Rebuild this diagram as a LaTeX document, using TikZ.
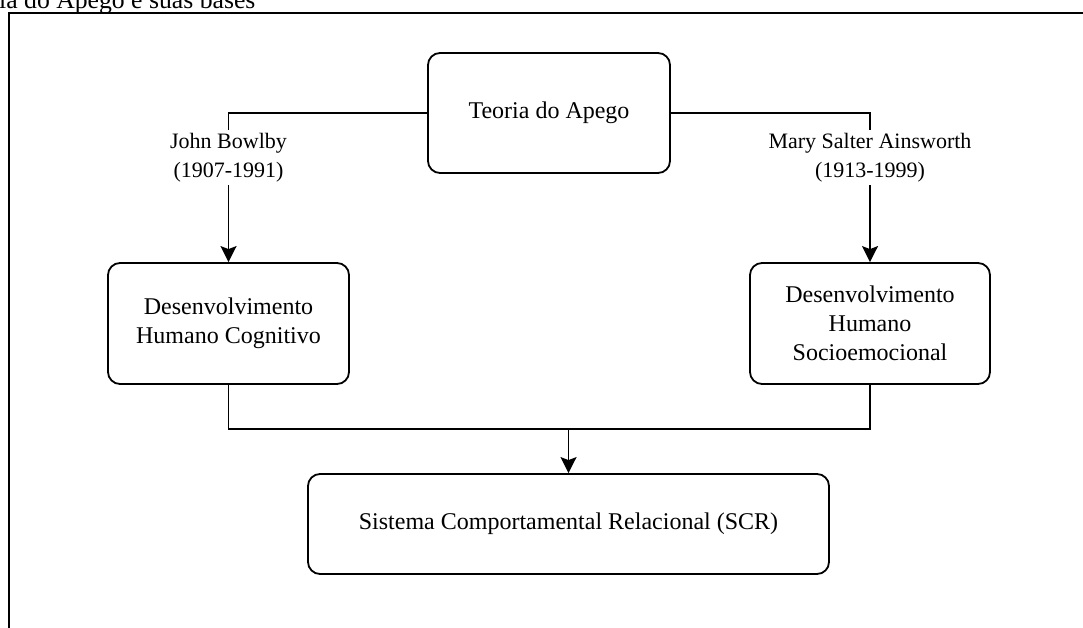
\documentclass[tikz,border=0pt]{standalone}
\usepackage{fontspec}
\setmainfont{Liberation Serif}
\usetikzlibrary{arrows.meta}
\begin{document}
\begin{tikzpicture}[x=1pt,y=-1pt,
  box/.style={draw=black, line width=1.8pt, rounded corners=12pt, align=center,
    font=\fontsize{24}{29}\selectfont, inner sep=0pt},
  link/.style={line width=1.8pt},
  arr/.style={link, -{Stealth[length=16pt,width=16pt,inset=3pt]}},
  who/.style={align=center, font=\fontsize{22}{29}\selectfont, inner sep=3pt},
]
\useasboundingbox (0,0) rectangle (1083,628);

% caption line and frame
\node[anchor=base west, font=\fontsize{25.7}{30}\selectfont, inner sep=0pt] (cap) at (-1,8.5) {ia do Apego e suas bases};
\draw[line width=2pt] (1083,13) -- (9,13) -- (9,628);

% boxes
\node[box, minimum width=242pt, minimum height=120pt] (teoria) at (549,113) {Teoria do Apego};
\node[box, minimum width=241pt, minimum height=121pt] (cog) at (228.5,323.5) {Desenvolvimento\\Humano Cognitivo};
\node[box, minimum width=240pt, minimum height=121pt] (socio) at (870,323.5) {Desenvolvimento\\Humano\\Socioemocional};
\node[box, minimum width=521pt, minimum height=100pt] (scr) at (568.5,524) {Sistema Comportamental Relacional (SCR)};

% author labels
\node[who] (bowlby) at (228.5,157.5) {John Bowlby\\(1907-1991)};
\node[who] (ainsworth) at (870,157.5) {Mary Salter Ainsworth\\(1913-1999)};

% connectors
\draw[link] (teoria.west) -| (bowlby.north);
\draw[arr] (bowlby.south) -- (cog.north);
\draw[link] (teoria.east) -| (ainsworth.north);
\draw[arr] (ainsworth.south) -- (socio.north);

\coordinate (join) at (568.5,429);
\draw[link] (cog.south) |- (join);
\draw[link] (socio.south) |- (join);
\draw[arr] (join) -- (scr.north);
\end{tikzpicture}
\end{document}
